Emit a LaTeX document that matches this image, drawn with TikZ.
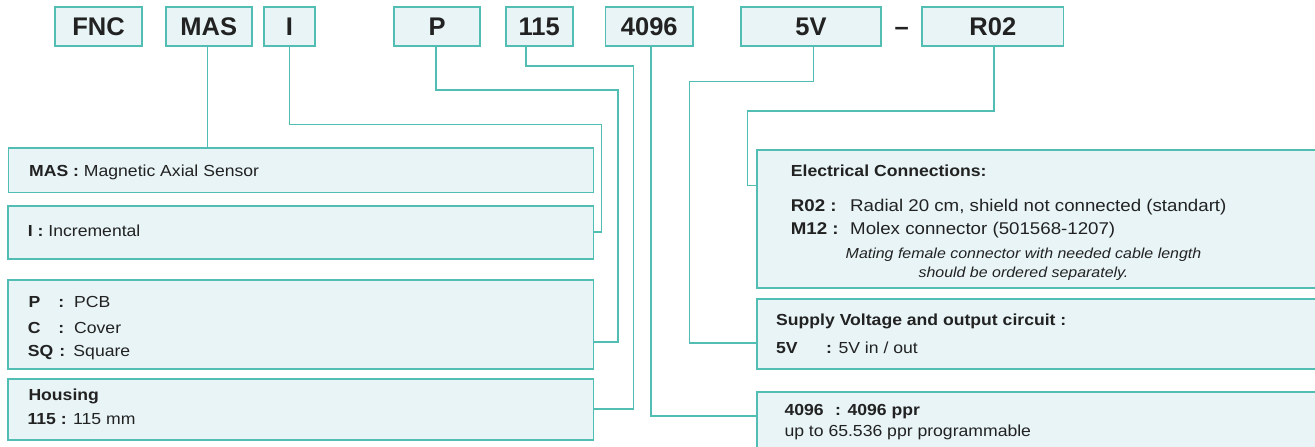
\documentclass[tikz,border=0pt]{standalone}
\usepackage{fontspec}
\setmainfont{Liberation Sans}
\newfontfamily\descfam[FakeStretch=1.1]{Liberation Sans}
\usetikzlibrary{positioning}

\definecolor{codeline}{RGB}{82,189,178}
\definecolor{codefill}{RGB}{232,244,246}
\definecolor{ink}{RGB}{34,34,34}

\newcommand\keyfont{\fontsize{25.5pt}{30pt}\selectfont\bfseries}
\newcommand\descfont{\descfam\fontsize{16pt}{19pt}\selectfont}
\newcommand\descbig{\descfam\fontsize{17pt}{20pt}\selectfont}
\newcommand\descsmall{\descfam\fontsize{14.5pt}{18pt}\selectfont\itshape}

\tikzset{
  codebox/.style={draw=codeline, fill=codefill, line width=1.8pt, inner sep=0pt,
    minimum height=38.7pt, font=\keyfont, text=ink, text height=18.3pt, text depth=0pt},
  descbox/.style={draw=codeline, fill=codefill, line width=1.8pt, inner sep=0pt, anchor=north west},
  link/.style={draw=codeline, line width=1.6pt},
  txt/.style={anchor=base west, inner sep=0pt, font=\descfont, text=ink}
}

\begin{document}
\begin{tikzpicture}[x=1pt, y=-1pt]
    \useasboundingbox (0,0) rectangle (1315,447);
    \clip (0,0) rectangle (1315,447);
    % Order code
    \node[codebox, minimum width=86.4pt] (cFNC) at (98.5,26.7) {FNC};
    \node[codebox, minimum width=86.3pt] (cMAS) at (208.8,26.7) {MAS};
    \node[codebox, minimum width=50.4pt] (cI) at (289.5,26.7) {I};
    \node[codebox, minimum width=86.3pt] (cP) at (437.2,26.7) {P};
    \node[codebox, minimum width=67pt] (c115) at (539.2,26.7) {115};
    \node[codebox, minimum width=87.5pt] (c4096) at (649.3,26.7) {4096};
    \node[codebox, minimum width=140.6pt] (c5V) at (811,26.7) {5V};
    \node[codebox, minimum width=141.2pt] (cR02) at (992.8,26.7) {R02};
    \node[font=\keyfont, text=ink, inner sep=0pt, text height=18.3pt, text depth=0pt] (dash) at (901.8,26.7) {–};
    % Left descriptions
    \node[descbox, minimum width=585pt, minimum height=44.8pt] (descM) at (7.5,146.7) {};
    \node[descbox, minimum width=585.6pt, minimum height=52.7pt] (descI) at (7,205) {};
    \node[descbox, minimum width=585.3pt, minimum height=88.7pt] (descP) at (7.3,279) {};
    \node[descbox, minimum width=585.3pt, minimum height=61.3pt] (descH) at (7.3,377.7) {};
    % Right descriptions
    \node[descbox, minimum width=600pt, minimum height=137.4pt] (descE) at (756,149.3) {};
    \node[descbox, minimum width=600pt, minimum height=70pt] (descV) at (756,298.3) {};
    \node[descbox, minimum width=600pt, minimum height=80pt] (descR) at (756,391) {};
    % Texts
    \node[txt] (tMAS) at (29,176) {\textbf{MAS :} Magnetic Axial Sensor};
    \node[txt] (tI) at (27.7,236) {\textbf{I :} Incremental};
    \node[txt] (tP) at (28.3,307.5) {\makebox[30pt][l]{\textbf{P}}\makebox[15.7pt][l]{\textbf{:}}PCB};
    \node[txt] (tC) at (27.7,333) {\makebox[30.6pt][l]{\textbf{C}}\makebox[15.7pt][l]{\textbf{:}}Cover};
    \node[txt] (tSQ) at (27.7,356) {\makebox[31.6pt][l]{\textbf{SQ}}\makebox[14pt][l]{\textbf{:}}Square};
    \node[txt] (tHous) at (28.3,400) {\textbf{Housing}};
    \node[txt] (t115) at (27.3,424) {\textbf{115 :} 115 mm};
    \node[txt] (tElec) at (790.7,176.7) {\textbf{Electrical Connections:}};
    \node[txt, font=\descbig] (tR02) at (790.7,211.7) {\makebox[59.3pt][l]{\textbf{R02 :}}Radial 20 cm, shield not connected (standart)};
    \node[txt, font=\descbig] (tM12) at (790.7,234.3) {\makebox[59.3pt][l]{\textbf{M12 :}}Molex connector (501568-1207)};
    \node[txt, anchor=base, font=\descsmall] (tMate) at (1023.5,258.3) {Mating female connector with needed cable length};
    \node[txt, anchor=base, font=\descsmall] (tSep) at (1023.5,277.7) {should be ordered separately.};
    \node[txt] (tSup) at (776,325) {\textbf{Supply Voltage and output circuit :}};
    \node[txt] (t5V) at (776,353.3) {\makebox[50pt][l]{\textbf{5V}}\textbf{:} 5V in / out};
    \node[txt] (t4096) at (784.3,415) {\makebox[50.7pt][l]{\textbf{4096}}\textbf{: 4096 ppr}};
    \node[txt] (tProg) at (784.3,436.7) {up to 65.536 ppr programmable};
    % Connectors
    \coordinate (bendI) at (601.5,124.3);
    \coordinate (bendP) at (618,90);
    \coordinate (bend115) at (633.3,65.7);
    \coordinate (bend5V) at (689.3,81.3);
    \coordinate (bendR) at (747.3,111);
    \draw[link] ([xshift=-1.5pt]cMAS.south) -- ([xshift=-1.5pt]cMAS.south |- descM.north);
    \draw[link] (cI.south) |- (bendI) |- (descI.east);
    \draw[link] ([xshift=-1.5pt]cP.south) |- (bendP) |- ([yshift=-18pt]descP.east);
    \draw[link] ([xshift=-13.5pt]c115.south) |- (bend115) |- (descH.east);
    \draw[link] ([xshift=1.4pt]c4096.south) |- ([yshift=-25pt]descR.north west);
    \draw[link] ([xshift=2.3pt]c5V.south) |- (bend5V) |- ([yshift=-9pt]descV.west);
    \draw[link] ([xshift=0.9pt]cR02.south) |- (bendR) |- ([yshift=-36pt]descE.north west);
\end{tikzpicture}
\end{document}
